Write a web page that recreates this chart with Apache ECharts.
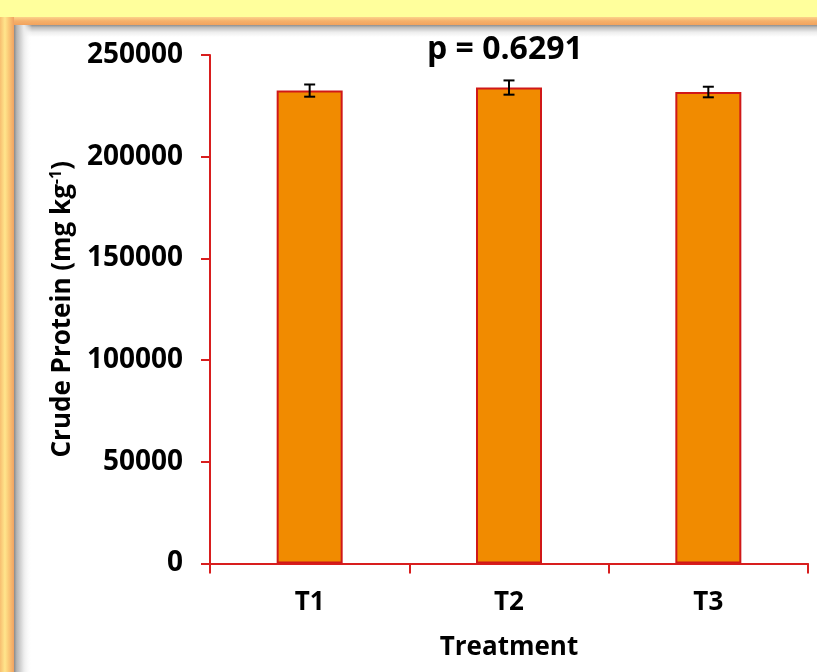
<!DOCTYPE html>
<html>
<head>
<meta charset="utf-8">
<script src="https://cdn.jsdelivr.net/npm/echarts@6/dist/echarts.min.js"></script>
<style>
html,body{margin:0;padding:0;background:#fff;}
#c{width:817px;height:672px;}
</style>
</head>
<body>
<div id="c"></div>
<script>
const categories = ['T1', 'T2', 'T3'];
const means = [232500, 234000, 231800];
const errors = [3000, 3500, 2600];
const yTicks = { min: 0, max: 250000, interval: 50000 };
const titleText = 'p = 0.6291';
const xName = 'Treatment';

const FONT = 'Open Sans';
const RED = '#D81E1E';

const chart = echarts.init(document.getElementById('c'), null, { renderer: 'canvas' });

const frame = [
  { type: 'rect', shape: { x: 0, y: 0, width: 817, height: 18 }, style: { fill: '#FFFF9C' }, z: -10 },
  { type: 'rect', shape: { x: 0, y: 17, width: 817, height: 8 },
    style: { fill: new echarts.graphic.LinearGradient(0, 0, 0, 1, [
      { offset: 0, color: '#FCD38A' }, { offset: 0.5, color: '#F5B06B' }, { offset: 1, color: '#F2A35E' }]) }, z: -9 },
  { type: 'rect', shape: { x: 0, y: 17, width: 14, height: 655 },
    style: { fill: new echarts.graphic.LinearGradient(0, 0, 1, 0, [
      { offset: 0, color: '#F7BE70' }, { offset: 0.35, color: '#FFE58C' }, { offset: 0.6, color: '#FBCB78' }, { offset: 1, color: '#F0A262' }]) }, z: -8 },
  { type: 'rect', shape: { x: 14, y: 25, width: 803, height: 12 },
    style: { fill: new echarts.graphic.LinearGradient(0, 0, 0, 1, [
      { offset: 0, color: '#8E8E8E' }, { offset: 0.2, color: '#BDBDBD' }, { offset: 0.6, color: '#EDEDED' }, { offset: 1, color: '#FFFFFF' }]) }, z: -7 },
  { type: 'rect', shape: { x: 14, y: 25, width: 18, height: 647 },
    style: { fill: new echarts.graphic.LinearGradient(0, 0, 1, 0, [
      { offset: 0, color: '#8A8A8A' }, { offset: 0.15, color: '#B5B5B5' }, { offset: 0.55, color: '#ECECEC' }, { offset: 1, color: 'rgba(255,255,255,0)' }]) }, z: -6 }
];

const errData = categories.map((c, i) => [i, means[i], errors[i]]);

chart.setOption({
  backgroundColor: '#ffffff',
  animation: false,
  graphic: frame,
  title: {
    text: titleText,
    left: 427, top: 34, padding: 0,
    textStyle: { fontFamily: FONT, fontWeight: 'bold', fontSize: 32, color: '#000' }
  },
  grid: { left: 210, right: 9, top: 55, bottom: 108.5, containLabel: false },
  xAxis: {
    type: 'category',
    data: categories,
    boundaryGap: true,
    axisLine: { show: true, lineStyle: { color: RED, width: 2 } },
    axisTick: { show: true, length: 10, alignWithLabel: false, lineStyle: { color: RED, width: 2 } },
    axisLabel: { margin: 26, fontFamily: FONT, fontWeight: 'bold', fontSize: 26, color: '#000' },
    name: xName,
    nameLocation: 'middle',
    nameGap: 71,
    nameTextStyle: { fontFamily: FONT, fontWeight: 'bold', fontSize: 26, color: '#000' },
    splitLine: { show: false }
  },
  yAxis: {
    type: 'value',
    min: yTicks.min, max: yTicks.max, interval: yTicks.interval,
    axisLine: { show: true, lineStyle: { color: RED, width: 2 } },
    axisTick: { show: true, length: 9, lineStyle: { color: RED, width: 2 } },
    axisLabel: { margin: 27, fontFamily: FONT, fontWeight: 'bold', fontSize: 28, color: '#000',
      formatter: function (v) { return String(v); } },
    splitLine: { show: false },
    name: '{a|Crude Protein (mg kg}{s|-1}{a|)}',
    nameLocation: 'middle',
    nameRotate: 90,
    nameGap: 129,
    nameTextStyle: {
      rich: {
        a: { fontFamily: FONT, fontWeight: 'bold', fontSize: 26, color: '#000', lineHeight: 29 },
        s: { fontFamily: FONT, fontWeight: 'bold', fontSize: 16, color: '#000', verticalAlign: 'top', lineHeight: 29 }
      }
    }
  },
  series: [
    {
      type: 'bar',
      data: means,
      barWidth: 66,
      itemStyle: { color: '#F18B00', borderColor: '#D01818', borderWidth: 2 },
      z: 2
    },
    {
      type: 'custom',
      data: errData,
      encode: { x: 0, y: 1 },
      z: 5,
      renderItem: function (params, api) {
        const x = api.value(0), y = api.value(1), e = api.value(2);
        const top = api.coord([x, y + e]);
        const bot = api.coord([x, y - e]);
        const hw = 5.5;
        const st = { stroke: '#000', lineWidth: 2 };
        return {
          type: 'group',
          children: [
            { type: 'line', shape: { x1: top[0], y1: top[1], x2: bot[0], y2: bot[1] }, style: st },
            { type: 'line', shape: { x1: top[0] - hw, y1: top[1], x2: top[0] + hw, y2: top[1] }, style: st },
            { type: 'line', shape: { x1: bot[0] - hw, y1: bot[1], x2: bot[0] + hw, y2: bot[1] }, style: st }
          ]
        };
      }
    }
  ]
});
</script>
</body>
</html>
